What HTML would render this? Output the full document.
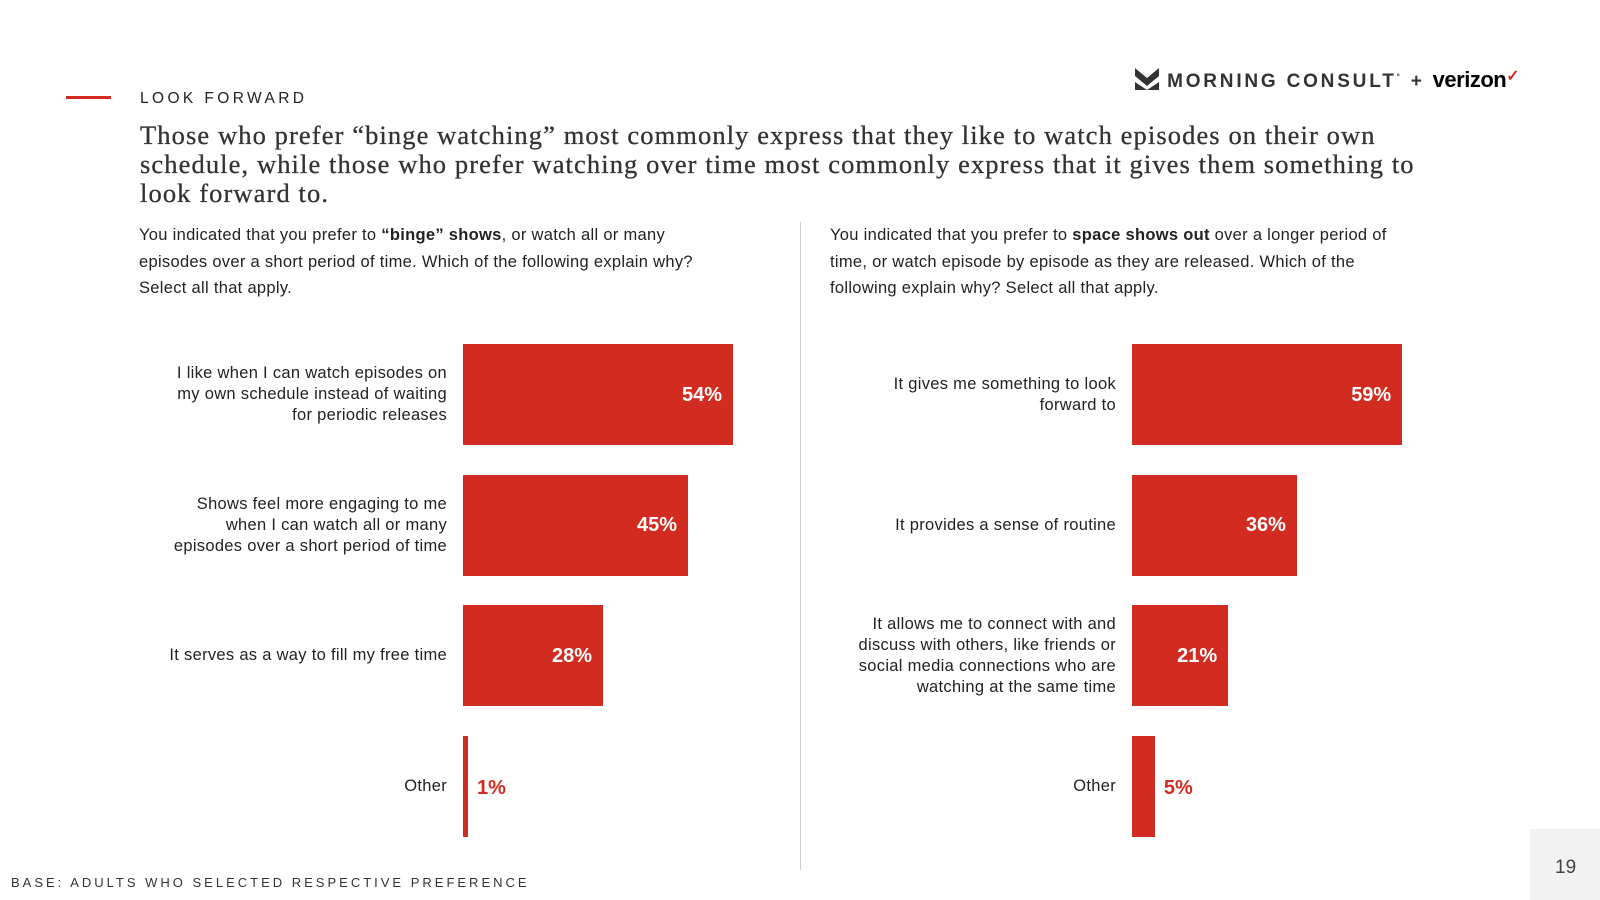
<!DOCTYPE html>
<html><head><meta charset="utf-8"><style>
body{margin:0;width:1600px;height:900px;position:relative;background:#fff;font-family:"Liberation Sans",Arial,sans-serif;color:#222;overflow:hidden}
.a{position:absolute}
.q{font-size:16.5px;line-height:26.5px;width:595px;letter-spacing:0.3px}
.lbl{position:absolute;text-align:right;font-size:16.5px;line-height:21px;color:#222;letter-spacing:0.3px}
.bar{position:absolute;background:#d22b1f}
.val{position:absolute;font-weight:bold;font-size:20px;line-height:24px}
</style></head><body>
<div class="a" style="left:66px;top:96px;width:45px;height:3px;background:#d22b1f"></div>
<div class="a" style="left:140px;top:90px;font-size:15.5px;letter-spacing:3.4px;color:#222">LOOK FORWARD</div>
<div class="a" style="left:1135px;top:66px;font-size:19px;font-weight:bold;letter-spacing:2.8px;color:#333;white-space:nowrap">
<svg width="24" height="22" viewBox="0 0 24 22" style="vertical-align:-3px"><path d="M0 0L12 10L24 0V8L12 18L0 8Z M0 14L12 22L24 14V22H0Z" fill="#333"/></svg> MORNING CONSULT<sup style="font-size:8px">°</sup> + <span style="letter-spacing:-0.5px;font-size:22px;color:#000">verizon</span><span style="color:#d22b1f;font-size:16px;vertical-align:6px">✓</span></div>
<div class="a" style="left:140px;top:121px;width:1300px;font-family:'Liberation Serif',serif;font-size:26.5px;line-height:29px;letter-spacing:1.1px;color:#333;-webkit-text-stroke:0.3px #333">Those who prefer “binge watching” most commonly express that they like to watch episodes on their own schedule, while those who prefer watching over time most commonly express that it gives them something to look forward to.</div>
<div class="a q" style="left:139px;top:222px">You indicated that you prefer to <b>“binge” shows</b>, or watch all or many episodes over a short period of time. Which of the following explain why? Select all that apply.</div>
<div class="a q" style="left:830px;top:222px;width:588px">You indicated that you prefer to <b>space shows out</b> over a longer period of time, or watch episode by episode as they are released. Which of the following explain why? Select all that apply.</div>
<div class="a" style="left:800px;top:222px;width:1px;height:648px;background:#ccc"></div>
<div id="charts"></div>
<div class="a" style="left:11px;top:875px;font-size:13px;letter-spacing:3px;color:#333">BASE: ADULTS WHO SELECTED RESPECTIVE PREFERENCE</div>
<div class="a" style="left:1530px;top:829px;width:70px;height:71px;background:#f2f2f2"></div>
<div class="a" style="left:1555px;top:857px;font-size:19px;color:#444">19</div>
<script>
const leftCategories=["I like when I can watch episodes on my own schedule instead of waiting for periodic releases","Shows feel more engaging to me when I can watch all or many episodes over a short period of time","It serves as a way to fill my free time","Other"];
const leftValues=[54,45,28,1];
const rightCategories=["It gives me something to look forward to","It provides a sense of routine","It allows me to connect with and discuss with others, like friends or social media connections who are watching at the same time","Other"];
const rightValues=[59,36,21,5];
const root=document.getElementById('charts');
function draw(cats,vals,x0,pxPer,lblRight,lblW,side){
  const top=344,step=130.5,h=101;
  cats.forEach((c,i)=>{
    const y=top+i*step;
    const b=document.createElement('div');b.className='bar';
    
    
    const w=vals[i]*pxPer;
    b.style.cssText=`left:${x0}px;top:${y}px;width:${w}px;height:${h}px`;
    root.appendChild(b);
    const v=document.createElement('div');v.className='val';
    
    
    v.textContent=vals[i]+'%';
    if(w>60){v.style.cssText=`left:${x0}px;width:${w-11}px;text-align:right;top:${y+h/2-12}px;color:#fff`;}
    else{v.style.cssText=`left:${x0+w+9}px;top:${y+h/2-10}px;color:#d22b1f`;}
    root.appendChild(v);
    const l=document.createElement('div');l.className='lbl';
    
    
    l.textContent=c;
    l.style.left=(lblRight-lblW)+'px';l.style.width=lblW+'px';
    root.appendChild(l);
    l.style.top=(y+h/2-l.offsetHeight/2)+'px';
  });
}
draw(leftCategories,leftValues,463,5,447,294,'left');
draw(rightCategories,rightValues,1132,4.58,1116,275,'right');
</script>
</body></html>
